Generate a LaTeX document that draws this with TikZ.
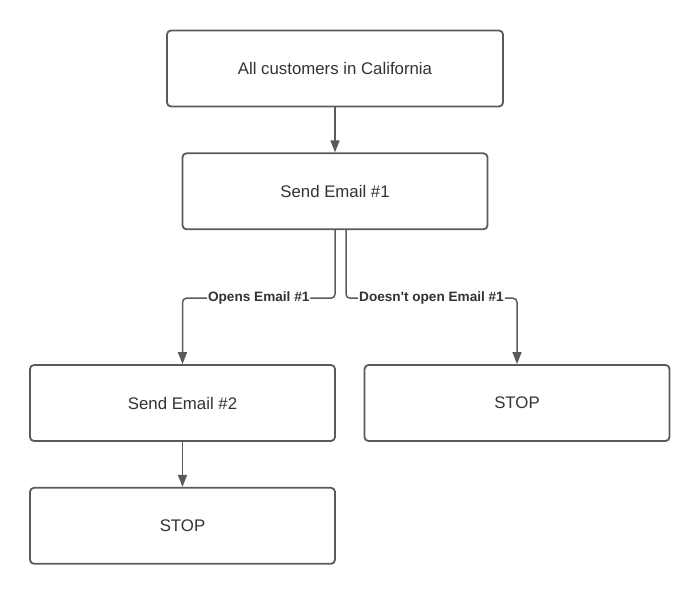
\documentclass[tikz,border=0pt]{standalone}
\usepackage{fontspec}
\setmainfont{Liberation Sans}
\usetikzlibrary{arrows.meta,positioning}
\definecolor{linegray}{HTML}{5A5A5A}
\definecolor{txtgray}{HTML}{333333}
\tikzset{
  box/.style={draw=linegray, line width=1.8pt, rounded corners=4pt, fill=white, text=txtgray,
              minimum width=#1, minimum height=76pt, inner sep=0pt, font=\fontsize{16.8}{19}\selectfont},
  box/.default=305pt,
  flow/.style={-{Triangle[length=12pt,width=9pt]}, line width=1.5pt, draw=linegray, rounded corners=4pt},
  lbl/.style={font=\bfseries\fontsize{13.6}{15}\selectfont, text=txtgray, fill=white, inner sep=1pt}
}

\begin{document}
\begin{tikzpicture}[x=1pt, y=-1pt, node distance=45pt]
  \useasboundingbox (0,0) rectangle (700,593);
  \node[box=336pt] (all) at (335,68.5) {All customers in California};
  \node[box, below=of all] (email1) {Send Email \#1};
  \node[box] (email2) at (182.5,403) {Send Email \#2};
  \node[box] (stopR) at (517,403) {STOP};
  \node[box, below=of email2] (stopL) {STOP};
  % branches
  \draw[flow] (all) -- (email1);
  \draw[flow] (email1.south) -- ++(0,68) -| node[lbl, pos=0.25] {Opens Email \#1} (email2.north);
  \draw[flow] ([xshift=11pt]email1.south) -- ++(0,68) -| node[lbl, pos=0.25] {Doesn\textquotesingle t open Email \#1} (stopR.north);
  \draw[flow] (email2) -- (stopL);
\end{tikzpicture}
\end{document}
